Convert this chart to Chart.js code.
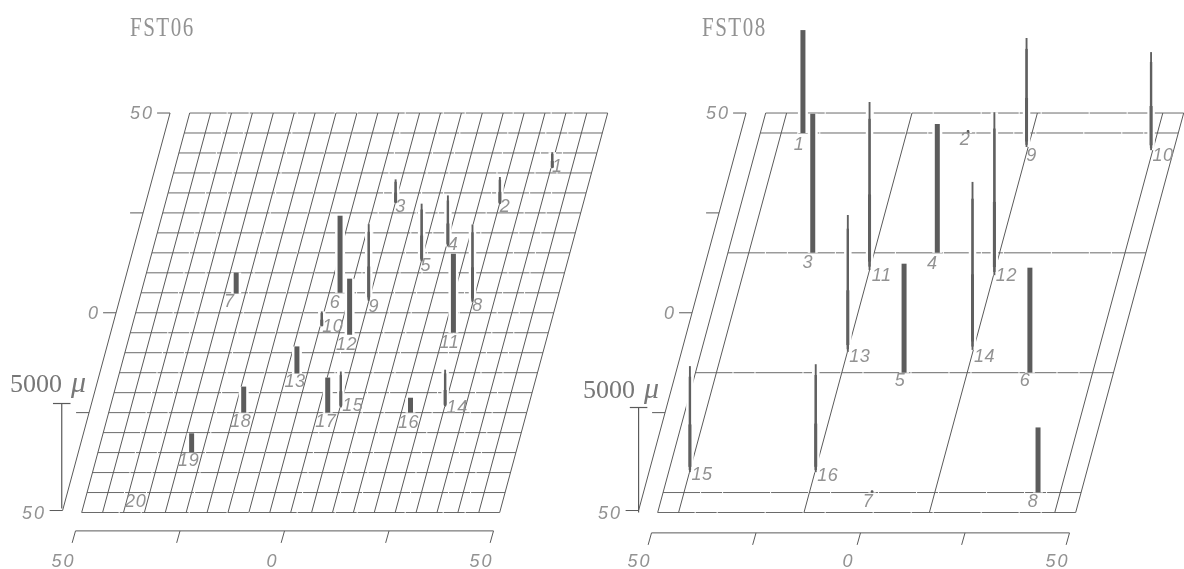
<!DOCTYPE html>
<html><head><meta charset="utf-8">
<style>
html,body{margin:0;padding:0;background:#fff;width:1184px;height:569px;overflow:hidden}
canvas{position:absolute;top:0;filter:blur(0.35px)}
#left{left:0}#right{left:576px}
</style>
<script src="https://cdn.jsdelivr.net/npm/chart.js@4"></script>
</head><body>
<canvas id="left" width="640" height="569"></canvas>
<canvas id="right" width="608" height="569"></canvas>
<script>
// ---- values (plan position in units, height in microns) ----
const leftNames  = ['1','2','3','4','5','6','7','8','9','10','11','12','13','14','15','16','17','18','19','20'];
const leftU = [40.3,30.1,5.1,20.4,15.1,-2.4,-27.2,29.9,5,-4.6,27.3,2.6,-7.5,30.1,5.2,22.2,2.4,-17.7,-27.6,-40.3];
const leftV = [36.2,27.2,27.4,16.6,12.8,5,4.8,2.6,2.9,-3.4,-5,-5.5,-15.2,-23.5,-23.7,-25,-25,-25,-34.9,-45];
const leftH = [760,1290,1140,2430,2760,3670,1000,3710,3670,710,3760,2670,1290,1760,1710,710,1670,1240,900,0];
const rightNames = ['1','2','3','4','5','6','7','8','9','10','11','12','13','14','15','16'];
const rightU = [-39.8,-0.3,-29.7,0.1,-0.1,30,0,39.7,14.6,44.6,-15,15.2,-14.9,14.8,-44.9,-14.8];
const rightV = [45,45,15,15,-15,-15,-45,-45,41.5,40.7,10.7,9.4,-9.8,-9.3,-39.9,-39.9];
const rightH = [4900,140,6620,6140,5190,5000,100,3100,5190,4670,8000,7760,6520,8000,5050,5140];
const leftGrid  = [-50,-45,-40,-35,-30,-25,-20,-15,-10,-5,0,5,10,15,20,25,30,35,40,45,50];
const rightGrid = [-50,-45,-15,15,45,50];
const axisTicks  = [-50,-25,0,25,50];
const axisLabels = ['50','','0','','50'];
const scaleBarMicrons = 5000;

// ---- styling / projection ----
const heavyLeft  = ['6','7','11','12','13','16','17','18','19'];
const heavyRight = ['1','3','4','5','6','8'];
const leftOffsets = [[5,-1],[5,3],[5,4],[5,-1],[4,4],[-5,10],[-7,8],[5,4],[5,6],[11,1],[-4,10],[-3,10],[-2,9],[12,1],[12,-1],[-2,10],[-2,9],[-3,9],[-3,9],[8,9]];
const rightOffsets = [[-4,12],[-3,7],[-5,10],[-5,11],[-4,8],[-5,8],[-4,9],[-5,9],[5,9],[12,6],[12,6],[12,1],[12,5],[12,7],[12,3],[12,4]];
const taper = [[0,1,1.9],[0.02,0.9,2.4],[0.05,0.45,3]];
const PX = 4.18, SHEAR = 0.2584, SHIFT = 1.48, RISE = 0.005257;
const projX = (u,v) => u + SHIFT + (v+50)*SHEAR;
const AXIS_U = -54.7;
const INK = '#5a5a5a', TEXT = '#929292';

function seg(a,b,color,width,order,dash){
  return {data:[a,b],showLine:true,borderColor:color,borderWidth:width,pointRadius:0,order:order,clip:false,borderDash:dash||[],borderCapStyle:'butt'};
}

function build(canvasId,cfg){
  const ds=[];
  const P=(u,v)=>({x:projX(u,v),y:v});
  cfg.grid.forEach(u=>ds.push(seg(P(u,-50),P(u,50),INK,1,5)));
  cfg.grid.forEach(v=>ds.push(seg(P(-50,v),P(50,v),'#6a6a6a',1,5,[37,1,21,1,47,1])));
  // pins
  cfg.names.forEach((n,i)=>{
    const b=P(cfg.u[i],cfg.v[i]), H=cfg.h[i]*RISE, t={x:b.x,y:b.y+H};
    const heavy=cfg.heavy.includes(n);
    ds.push(seg(b,t,'#ffffff',(heavy?5:2.5)+5,3));
    if(heavy){ ds.push(seg(b,t,'#5c5c5c',5,2)); }
    else taper.forEach(f=>ds.push(seg({x:b.x,y:b.y+H*f[0]},{x:b.x,y:b.y+H*f[1]},'#606060',f[2],2)));
  });
  // slanted left axis and its ticks
  ds.push(seg(P(AXIS_U,50),P(AXIS_U,-49.5),INK,1,4));
  axisTicks.forEach(v=>{
    const vv=v===-50?-49.5:v, a=P(AXIS_U,vv);
    ds.push(seg(a,{x:a.x-3.1,y:a.y},INK,1,4));
  });
  // bottom axis and slanted ticks
  ds.push(seg({x:-50,y:cfg.axisY},{x:50,y:cfg.axisY},INK,1,4));
  axisTicks.forEach(x=>ds.push(seg({x:x,y:cfg.axisY},{x:x-0.8,y:cfg.axisY-3},INK,1,4)));
  // scale bar
  const bx=projX(AXIS_U,-49.5)+cfg.barDx, by=cfg.barBase, top=by+scaleBarMicrons*RISE;
  ds.push(seg({x:bx,y:by},{x:bx,y:top},INK,1.2,4));
  ds.push(seg({x:bx-2.1,y:top},{x:bx+2.1,y:top},INK,1.2,4));

  const W=document.getElementById(canvasId).width;
  const xmin=-50-75.5/PX, xmax=xmin+W/PX;
  const textPlugin={
    id:'txt',
    beforeDraw(chart){chart.ctx.letterSpacing='2px';},
    afterDatasetsDraw(chart){
      const c=chart.ctx,xs=chart.scales.x,ys=chart.scales.y;
      const X=v=>xs.getPixelForValue(v),Y=v=>ys.getPixelForValue(v);
      c.save();
      c.fillStyle=TEXT;c.textBaseline='middle';
      // left axis labels
      c.font='italic 18px "Liberation Sans"';c.textAlign='right';c.letterSpacing='2px';
      axisTicks.forEach((v,i)=>{
        if(!axisLabels[i])return;
        c.fillText(axisLabels[i],X(projX(AXIS_U,v))-16,Y(v)+1);
      });
      // pin labels
      c.font='italic 18px "Liberation Sans"';c.textAlign='center';c.letterSpacing='0.5px';
      cfg.names.forEach((n,i)=>{
        const o=cfg.off[i];
        c.fillText(n,X(projX(cfg.u[i],cfg.v[i]))+o[0],Y(cfg.v[i])+o[1]);
      });
      // title
      c.save();c.letterSpacing='2px';c.textAlign='left';c.textBaseline='alphabetic';
      c.translate(cfg.titleX,35.5);c.scale(0.75,1);
      c.font='28px "Liberation Serif"';c.fillText(cfg.title,0,0);c.restore();
      // scale caption
      c.letterSpacing='0px';c.textAlign='left';c.textBaseline='alphabetic';c.fillStyle='#777';
      const capY=Y(top)-cfg.capLift;
      c.font='26px "Liberation Serif"';c.fillText(String(scaleBarMicrons),cfg.capX,capY);
      c.font='italic 30px "Liberation Serif"';c.fillText('\u03bc',cfg.capX+61,capY);
      c.restore();
    }
  };
  new Chart(document.getElementById(canvasId),{
    type:'scatter',
    data:{datasets:ds},
    plugins:[textPlugin],
    options:{
      responsive:false,animation:false,events:[],
      layout:{padding:0},
      plugins:{legend:{display:false},tooltip:{enabled:false},title:{display:false}},
      scales:{
        x:{type:'linear',min:xmin,max:xmax,bounds:'data',
          grid:{display:false,drawTicks:false},border:{display:false},
          afterBuildTicks(s){s.ticks=axisTicks.map(v=>({value:v}));},
          afterFit(s){s.height=29;},
          ticks:{autoSkip:false,maxRotation:0,minRotation:0,padding:11,labelOffset:-12,color:TEXT,
            font:{family:'Liberation Sans',size:18,style:'italic'},
            callback(v){const i=axisTicks.indexOf(v);return i<0?'':axisLabels[i];}}},
        y:{type:'linear',display:false,min:-56.88,max:78.29}
      }
    }
  });
}

build('left',{title:'FST06',titleX:130,names:leftNames,u:leftU,v:leftV,h:leftH,grid:leftGrid,heavy:heavyLeft,off:leftOffsets,axisY:-54.6,barDx:-0.2,barBase:-49,capX:10,capLift:12});
build('right',{title:'FST08',titleX:126,names:rightNames,u:rightU,v:rightV,h:rightH,grid:rightGrid,heavy:heavyRight,off:rightOffsets,axisY:-55.1,barDx:0,barBase:-50,capX:7,capLift:10});
</script>
</body></html>
